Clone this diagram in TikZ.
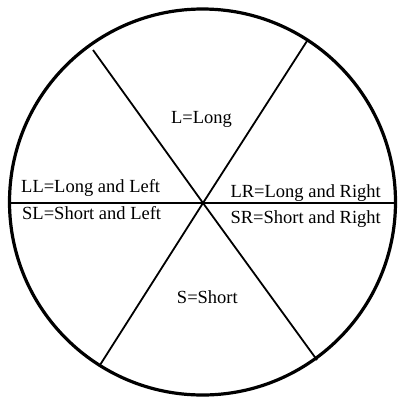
\documentclass[tikz,border=0pt]{standalone}
\usepackage{fontspec}
\setmainfont{Liberation Serif}
\begin{document}
\begin{tikzpicture}[x=1pt,y=-1pt,
  rim/.style={line width=3.2pt},
  spoke/.style={line width=1.8pt},
  lab/.style={font=\fontsize{18.5}{22}\selectfont, inner sep=0pt}]
  \useasboundingbox (0,0) rectangle (401,397);
  % wheel
  \coordinate (O) at (203,203);
  \draw[rim] (202.5,202) circle[radius=193pt];
  \coordinate (ul) at (93,50);
  \coordinate (dr) at (317,360);
  \coordinate (ur) at (307,41);
  \coordinate (dl) at (100,365);
  \coordinate (w) at (9,203);
  \coordinate (e) at (396,203);
  \draw[spoke] (ul) -- (O) -- (dr);
  \draw[spoke] (ur) -- (O) -- (dl);
  \draw[spoke] (w) -- (e);
  % labels
  \node[lab, anchor=base east] (long) at (232,123) {L=Long};
  \node[lab, anchor=base west] (ll) at (21,192) {LL=Long and Left};
  \node[lab, anchor=base east] (lr) at (381,197) {LR=Long and Right};
  \node[lab, anchor=base west] (sl) at (22,219) {SL=Short and Left};
  \node[lab, anchor=base east] (sr) at (381,223) {SR=Short and Right};
  \node[lab, anchor=base east] (short) at (238,303) {S=Short};
\end{tikzpicture}
\end{document}
